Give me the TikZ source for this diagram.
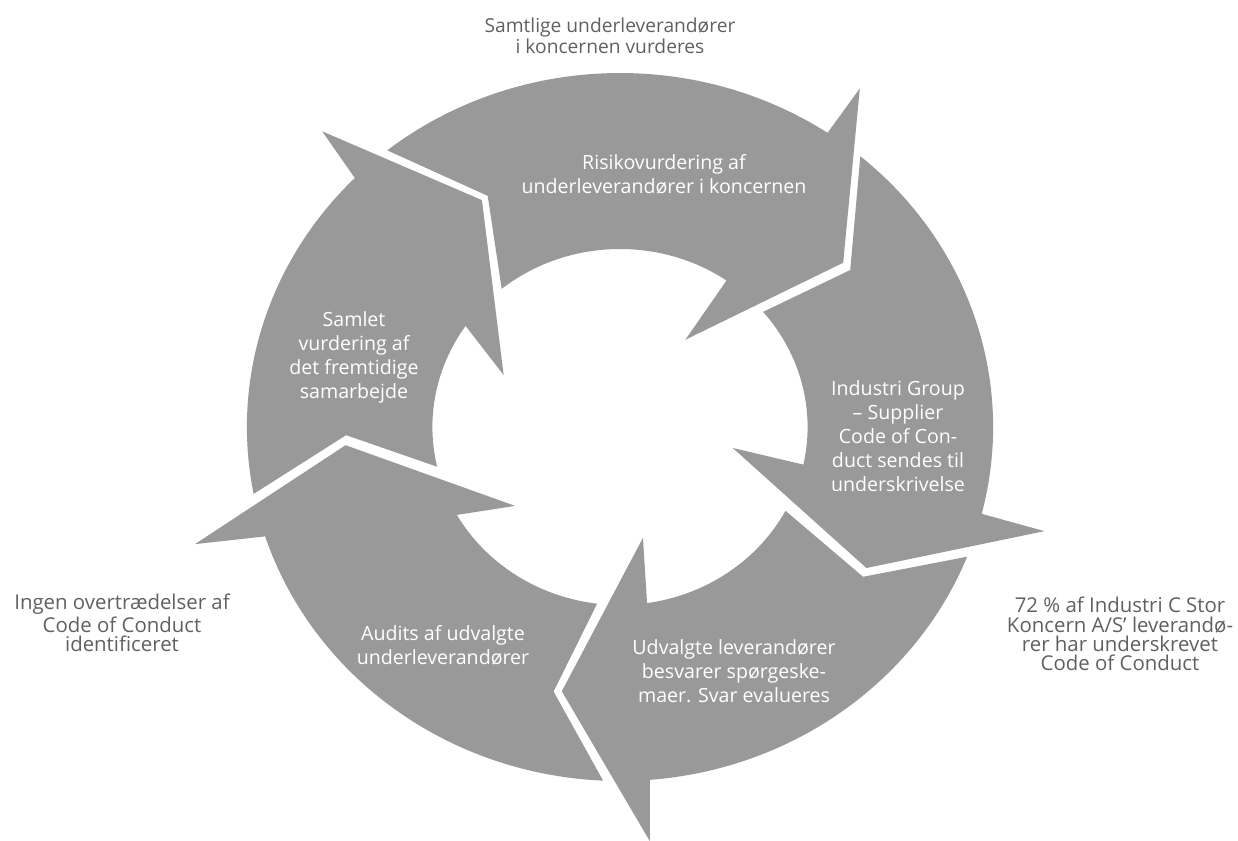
\documentclass[tikz,border=0pt]{standalone}
\usepackage{fontspec}
\setmainfont{Open Sans}
\definecolor{ringgray}{HTML}{999999}
\definecolor{notegray}{HTML}{606060}

\begin{document}
\begin{tikzpicture}[x=0.5pt, y=0.5pt,
    segment/.style={fill=ringgray},
    steptext/.style={text=white, align=center, font=\fontsize{9.8}{12}\selectfont},
    notetext/.style={text=notegray, align=center, font=\fontsize{10.2}{9.7}\selectfont}]

    % Define the outer and inner radius of the ring
    \def\Rout{354}
    \def\Rin{178}

    % Fix the canvas to the size of the image
    \useasboundingbox (0,0) rectangle (1238,841);

    % Define the center of the ring O
    \coordinate (O) at (620,414);

    % The ring is slightly wider than high
    \begin{scope}[shift={(O)}, xscale=1.054]

        % Risikovurdering (top), head pointing right
        \fill[segment] (128.6:\Rout) arc[start angle=128.6, end angle=56.2, radius=\Rout]
            -- (56.1:408) -- (37.8:268) -- (54.6:107) -- (55.4:\Rin)
            arc[start angle=55.4, end angle=129.1, radius=\Rin] -- (118.5:263) -- cycle;

        % Supplier Code of Conduct (right), head pointing down
        \fill[segment] (49.9:\Rout) arc[start angle=49.9, end angle=-14.2, radius=\Rout]
            -- (-14.5:416) -- (-31.1:273) -- (-11.1:109) -- (-12.2:\Rin)
            arc[start angle=-12.2, end angle=40.3, radius=\Rin] -- (35.7:269) -- cycle;

        % Udvalgte leverandoerer (bottom right), head pointing left
        \fill[segment] (-21.5:\Rout) arc[start angle=-21.5, end angle=-85.4, radius=\Rout]
            -- (-86.1:415) -- (-101.8:270) -- (-78.9:113) -- (-81.7:\Rin)
            arc[start angle=-81.7, end angle=-28.1, radius=\Rin] -- (-33.0:275) -- cycle;

        % Audits (bottom left), head pointing up
        \fill[segment] (267.4:\Rout) arc[start angle=267.4, end angle=198.0, radius=\Rout]
            -- (196.2:420) -- (184.0:261) -- (218.4:127) -- (209.6:\Rin)
            arc[start angle=209.6, end angle=263.0, radius=\Rin] -- (256.6:272) -- cycle;

        % Samlet vurdering (left), head pointing up right
        \fill[segment] (190.9:\Rout) arc[start angle=190.9, end angle=135.3, radius=\Rout]
            -- (133.7:409) -- (120.0:262) -- (154.8:122) -- (145.4:\Rin)
            arc[start angle=145.4, end angle=192.9, radius=\Rin] -- (181.8:260) -- cycle;

    \end{scope}

    % Text of the five steps
    \node[steptext] (risk) at (664,667) {Risikovurdering af\\underleverandører i koncernen};
    \node[steptext] (code) at (898,405) {Industri Group\\– Supplier\\Code of Con-\\duct sendes til\\underskrivelse};
    \node[steptext] (quest) at (734,170) {Udvalgte leverandører\\besvarer spørgeske-\\maer. Svar evalueres};
    \node[steptext] (audit) at (443,196) {Audits af udvalgte\\underleverandører};
    \node[steptext] (total) at (354,484) {Samlet\\vurdering af\\det fremtidige\\samarbejde};

    % Notes outside the ring
    \node[notetext, font=\fontsize{9.6}{10.8}\selectfont] (scope) at (610,805) {Samtlige underleverandører\\i koncernen vurderes};
    \node[notetext] (signed) at (1120,207) {72~\% af Industri C Stor\\Koncern A/S’ leverandø-\\rer har underskrevet\\Code of Conduct};
    \node[notetext] (none) at (122,218) {Ingen overtrædelser af\\Code of Conduct\\identificeret};

\end{tikzpicture}
\end{document}
